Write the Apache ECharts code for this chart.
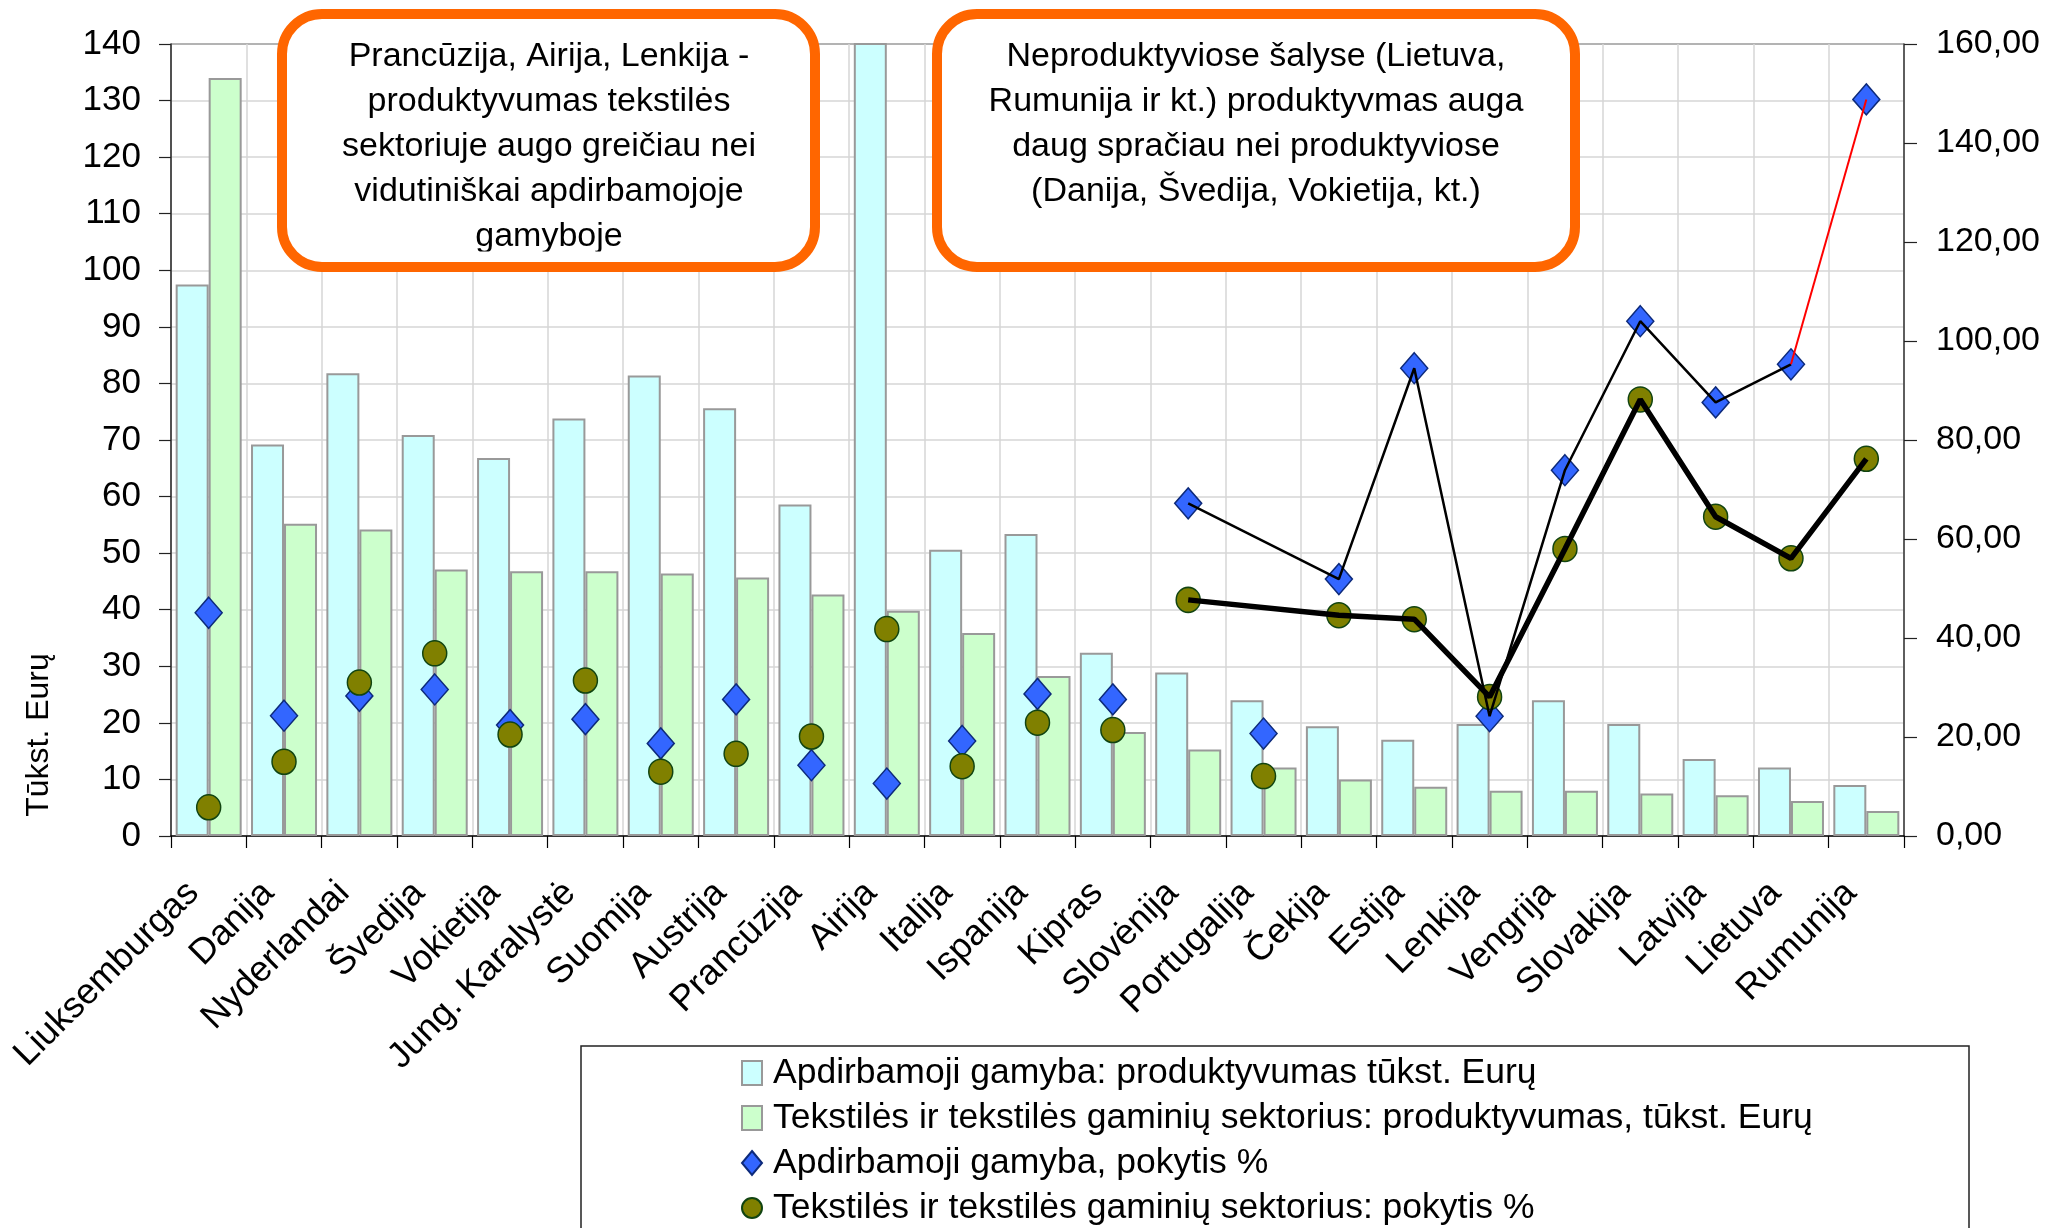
<!DOCTYPE html>
<html>
<head>
<meta charset="utf-8">
<script src="https://cdn.jsdelivr.net/npm/echarts@6/dist/echarts.min.js"></script>
<style>
html,body{margin:0;padding:0;background:#fff;}
#chart{width:2047px;height:1228px;}
</style>
</head>
<body>
<div id="chart"></div>
<script>
const categories = ['Liuksemburgas','Danija','Nyderlandai','Švedija','Vokietija','Jung. Karalystė','Suomija','Austrija','Prancūzija','Airija','Italija','Ispanija','Kipras','Slovėnija','Portugalija','Čekija','Estija','Lenkija','Vengrija','Slovakija','Latvija','Lietuva','Rumunija'];
const manufProd = [97.5,69.2,81.8,70.9,66.8,73.8,81.4,75.6,58.6,150,50.6,53.4,32.4,28.9,24.0,19.4,17.0,19.8,24.0,19.8,13.6,12.1,9.0];
const textileProd = [134.0,55.2,54.2,47.1,46.8,46.8,46.4,45.7,42.7,39.8,35.9,28.3,18.4,15.3,12.1,10.0,8.7,8.0,8.0,7.5,7.2,6.2,4.4];
const manufChange = [45.1,24.3,28.3,29.6,22.4,23.6,18.7,27.6,14.3,10.6,19.2,28.7,27.6,67.2,20.7,51.9,94.5,24.2,73.9,104.0,87.6,95.3,148.8];
const textileChange = [5.8,15.0,31.0,36.9,20.5,31.4,13.0,16.6,20.1,41.8,14.1,22.9,21.4,47.7,12.1,44.6,43.8,28.1,58.0,88.2,64.5,56.1,76.2];
const seriesNames = [
  'Apdirbamoji gamyba: produktyvumas tūkst. Eurų',
  'Tekstilės ir tekstilės gaminių sektorius: produktyvumas, tūkst. Eurų',
  'Apdirbamoji gamyba, pokytis %',
  'Tekstilės ir tekstilės gaminių sektorius: pokytis %'
];
const leftAxisTicks = [0,10,20,30,40,50,60,70,80,90,100,110,120,130,140];
const rightAxisTicks = [0,20,40,60,80,100,120,140,160];
const yAxisTitle = 'Tūkst. Eurų';
const noteLeft = ['Prancūzija, Airija, Lenkija -','produktyvumas tekstilės','sektoriuje augo greičiau nei','vidutiniškai apdirbamojoje','gamyboje'];
const noteRight = ['Neproduktyviose šalyse (Lietuva,','Rumunija ir kt.) produktyvmas auga','daug spračiau nei produktyviose','(Danija, Švedija, Vokietija, kt.)'];
const lineFrom = 'Slovėnija';
const lineSkip = ['Portugalija'];
const redFrom = 'Lietuva';

const FONT = '"Liberation Sans", Arial, sans-serif';
const startIdx = categories.indexOf(lineFrom);
const redIdx = categories.indexOf(redFrom);
const inLine = i => i >= startIdx && !lineSkip.includes(categories[i]);
const manufLine = manufChange.map((v,i) => (inLine(i) && i <= redIdx) ? v : null);
const manufRedLine = manufChange.map((v,i) => i >= redIdx ? v : null);
const textileLine = textileChange.map((v,i) => inLine(i) ? v : null);

const gridColors = leftAxisTicks.map((t,i) => i === leftAxisTicks.length - 1 ? '#9a9a9a' : '#d6d6d6');

function noteTexts(lines, cx, z) {
  return lines.map((t, i) => ({
    type: 'text', silent: true, z: z, x: cx, y: 57 + i * 44.8,
    style: {text: t, fontSize: 34, fontFamily: FONT, fill: '#000', align: 'center', verticalAlign: 'middle'}
  }));
}

const chart = echarts.init(document.getElementById('chart'), null, {renderer:'canvas'});
chart.setOption({
  animation: false,
  backgroundColor: '#ffffff',
  textStyle: {fontFamily: FONT},
  grid: {left: 171, right: 143, top: 44, bottom: 392, containLabel: false},
  legend: {
    orient: 'vertical', left: 741, top: 1055, height: 300, padding: 0,
    itemWidth: 20, itemHeight: 24, itemGap: 9,
    textStyle: {fontSize: 35.5, lineHeight: 34, color: '#000', fontFamily: FONT, padding: [0, 0, 0, 6]},
    data: [
      {name: seriesNames[0], icon: 'rect'},
      {name: seriesNames[1], icon: 'rect'},
      {name: seriesNames[2], icon: 'diamond'},
      {name: seriesNames[3], icon: 'circle'}
    ]
  },
  xAxis: {
    type: 'category', data: categories,
    axisLine: {lineStyle: {color: '#000', width: 1.5}},
    axisTick: {show: true, length: 12, lineStyle: {color: '#000', width: 1.2}},
    splitLine: {show: true, lineStyle: {color: '#d6d6d6', width: 1.5}},
    axisLabel: {rotate: 45, interval: 0, margin: 36, fontSize: 36, color: '#000', fontFamily: FONT, padding: [0, 22, 0, 0]}
  },
  yAxis: [
    {
      type: 'value', min: leftAxisTicks[0], max: leftAxisTicks[leftAxisTicks.length-1], interval: leftAxisTicks[1]-leftAxisTicks[0],
      axisLine: {show: true, lineStyle: {color: '#222', width: 1.5}},
      axisTick: {show: true, length: 12, lineStyle: {color: '#222', width: 1.2}},
      splitLine: {show: true, lineStyle: {color: gridColors, width: 1.5}},
      axisLabel: {fontSize: 35, margin: 30, color: '#000', fontFamily: FONT}
    },
    {
      type: 'value', position: 'right', min: rightAxisTicks[0], max: rightAxisTicks[rightAxisTicks.length-1], interval: rightAxisTicks[1]-rightAxisTicks[0],
      axisLine: {show: true, lineStyle: {color: '#333', width: 1.5}},
      axisTick: {show: true, length: 13, lineStyle: {color: '#222', width: 1.2}},
      splitLine: {show: false},
      axisLabel: {fontSize: 34, margin: 32, color: '#000', fontFamily: FONT, formatter: v => v.toFixed(2).replace('.', ',')}
    }
  ],
  series: [
    {
      name: seriesNames[0], type: 'bar', data: manufProd, yAxisIndex: 0,
      barWidth: 33, barGap: '0%',
      itemStyle: {color: '#CCFFFF', borderColor: '#999999', borderWidth: 2}
    },
    {
      name: seriesNames[1], type: 'bar', data: textileProd, yAxisIndex: 0,
      barWidth: 33, barGap: '0%',
      itemStyle: {color: '#CCFFCC', borderColor: '#999999', borderWidth: 2}
    },
    {
      name: seriesNames[2], type: 'scatter', data: manufChange, yAxisIndex: 1,
      symbol: 'diamond', symbolSize: [27, 31],
      itemStyle: {color: '#3366FF', borderColor: '#0D2A7A', borderWidth: 1.5, opacity: 1}
    },
    {
      name: seriesNames[3], type: 'scatter', data: textileChange, yAxisIndex: 1,
      symbol: 'circle', symbolSize: [24, 25],
      itemStyle: {color: '#808000', borderColor: '#114411', borderWidth: 1.5, opacity: 1}
    },
    {
      name: 'manufLine', type: 'line', data: manufLine, yAxisIndex: 1, connectNulls: true,
      symbol: 'none', silent: true, lineStyle: {color: '#000', width: 2.5}
    },
    {
      name: 'manufRedLine', type: 'line', data: manufRedLine, yAxisIndex: 1, connectNulls: true,
      symbol: 'none', silent: true, lineStyle: {color: '#FF0000', width: 2}
    },
    {
      name: 'textileLine', type: 'line', data: textileLine, yAxisIndex: 1, connectNulls: true,
      symbol: 'none', silent: true, lineStyle: {color: '#000', width: 5.5}
    }
  ],
  graphic: [
    {type: 'rect', silent: true, z: 100, shape: {x: 581, y: 1046, width: 1388, height: 400},
     style: {fill: 'none', stroke: '#222', lineWidth: 1.5}},
    {type: 'text', silent: true, z: 100, x: 39, y: 735, rotation: Math.PI/2,
     style: {text: yAxisTitle, fontSize: 32, fontFamily: FONT, fill: '#000', align: 'center', verticalAlign: 'middle'}},
    {type: 'rect', silent: true, z: 100, shape: {x: 282, y: 14, width: 533, height: 253, r: 40},
     style: {fill: '#fff', stroke: '#FF6600', lineWidth: 10}},
    {type: 'rect', silent: true, z: 100, shape: {x: 937, y: 14, width: 638, height: 253, r: 40},
     style: {fill: '#fff', stroke: '#FF6600', lineWidth: 10}}
  ].concat(noteTexts(noteLeft, 549, 101), noteTexts(noteRight, 1256, 101), [
    {type: 'rect', silent: true, z: 102, shape: {x: 330, y: 251.5, width: 440, height: 10.5},
     style: {fill: '#fff', stroke: null}}
  ])
});
</script>
</body>
</html>
